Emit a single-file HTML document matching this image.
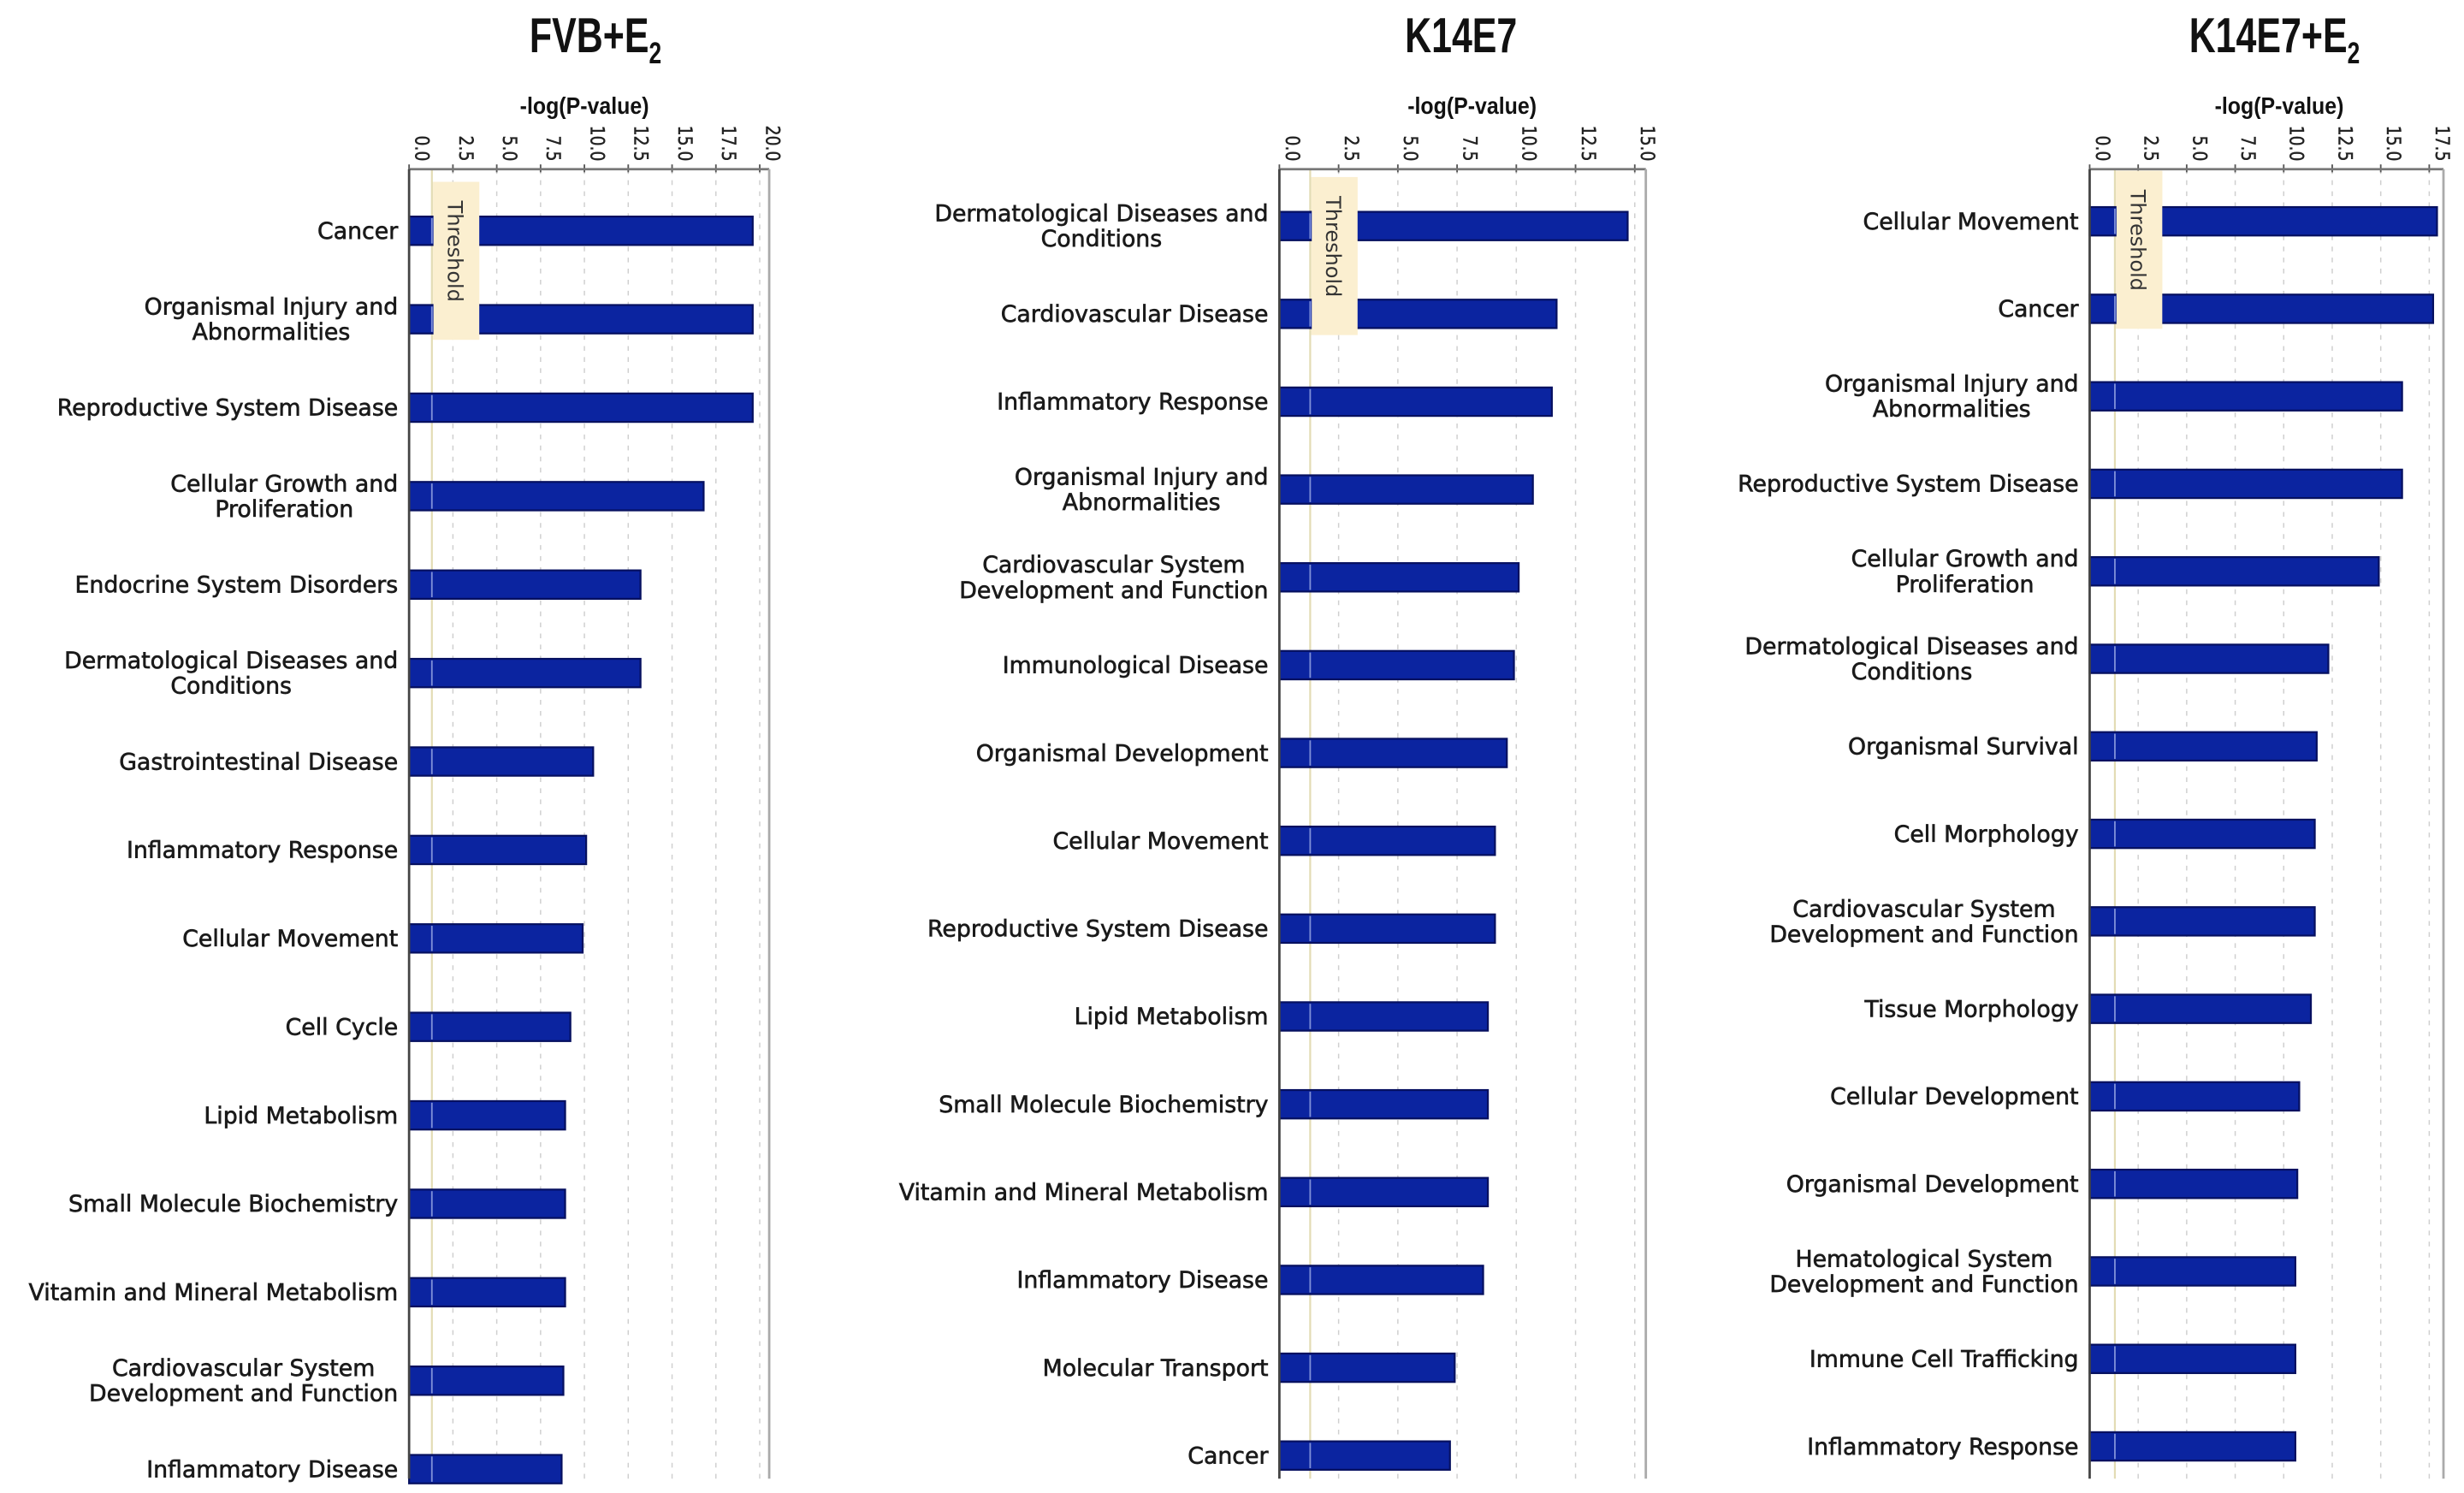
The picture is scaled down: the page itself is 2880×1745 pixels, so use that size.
<!DOCTYPE html>
<html><head><meta charset="utf-8"><style>
html,body{margin:0;padding:0;background:#fff;}
svg{display:block;}
</style></head><body>
<svg id="chart" width="2880" height="1745" viewBox="0 0 1560 945" xmlns="http://www.w3.org/2000/svg"></svg>
<script>
const cats1 = [["Cancer"],["Organismal Injury and","Abnormalities"],["Reproductive System Disease"],["Cellular Growth and","Proliferation"],["Endocrine System Disorders"],["Dermatological Diseases and","Conditions"],["Gastrointestinal Disease"],["Inflammatory Response"],["Cellular Movement"],["Cell Cycle"],["Lipid Metabolism"],["Small Molecule Biochemistry"],["Vitamin and Mineral Metabolism"],["Cardiovascular System","Development and Function"],["Inflammatory Disease"]];
const vals1 = [19.6,19.6,19.6,16.8,13.2,13.2,10.5,10.1,9.9,9.2,8.9,8.9,8.9,8.8,8.7];
const ticks1 = ["0.0","2.5","5.0","7.5","10.0","12.5","15.0","17.5","20.0"];

const cats2 = [["Dermatological Diseases and","Conditions"],["Cardiovascular Disease"],["Inflammatory Response"],["Organismal Injury and","Abnormalities"],["Cardiovascular System","Development and Function"],["Immunological Disease"],["Organismal Development"],["Cellular Movement"],["Reproductive System Disease"],["Lipid Metabolism"],["Small Molecule Biochemistry"],["Vitamin and Mineral Metabolism"],["Inflammatory Disease"],["Molecular Transport"],["Cancer"]];
const vals2 = [14.7,11.7,11.5,10.7,10.1,9.9,9.6,9.1,9.1,8.8,8.8,8.8,8.6,7.4,7.2];
const ticks2 = ["0.0","2.5","5.0","7.5","10.0","12.5","15.0"];

const cats3 = [["Cellular Movement"],["Cancer"],["Organismal Injury and","Abnormalities"],["Reproductive System Disease"],["Cellular Growth and","Proliferation"],["Dermatological Diseases and","Conditions"],["Organismal Survival"],["Cell Morphology"],["Cardiovascular System","Development and Function"],["Tissue Morphology"],["Cellular Development"],["Organismal Development"],["Hematological System","Development and Function"],["Immune Cell Trafficking"],["Inflammatory Response"]];
const vals3 = [17.9,17.7,16.1,16.1,14.9,12.3,11.7,11.6,11.6,11.4,10.8,10.7,10.6,10.6,10.6];
const ticks3 = ["0.0","2.5","5.0","7.5","10.0","12.5","15.0","17.5"];

const thresh = 1.3;
const NS="http://www.w3.org/2000/svg";
const svg=document.getElementById('chart');
function mk(tag,attrs,parent,txt){const e=document.createElementNS(NS,tag);for(const k in attrs)e.setAttribute(k,attrs[k]);if(txt!==undefined)e.textContent=txt;(parent||svg).appendChild(e);return e;}
const LF="font-family:'DejaVu Sans','Liberation Sans',sans-serif;";
const SF="font-family:'Liberation Sans',sans-serif;";
const LABST=LF+"font-size:14.5px;stroke:#1a1a1a;stroke-width:0.35px;";

function panel(cfg,cats,vals,ticks){
  const g=mk('g',{});
  
  
  const tmax=parseFloat(ticks[ticks.length-1]);
  const x=v=>cfg.x0+(cfg.xT-cfg.x0)*v/tmax;
  const y=i=>cfg.y0+cfg.dy*i;
  const t=mk('text',{transform:`translate(${cfg.tx},33) scale(0.75,1)`,'text-anchor':'middle',style:SF+'font-size:31px;font-weight:bold;',fill:'#111'},g);
  
  
  mk('tspan',{},t,cfg.title);
  if(cfg.sub){mk('tspan',{style:'font-size:19px',dy:7},t,cfg.sub);}
  const al=mk('text',{transform:`translate(${cfg.ax},72) scale(0.9,1)`,'text-anchor':'middle',style:SF+'font-size:15px;font-weight:bold;',fill:'#111'},g,'-log(P-value)');
  
  
  const top=107,bot=936;
  ticks.forEach((tk,i)=>{
    const v=parseFloat(tk),xx=x(v);
    if(i>0){const gl=mk('line',{x1:xx,y1:top,x2:xx,y2:bot,stroke:'#cfcfcf','stroke-width':0.8,'stroke-dasharray':'3,4'},g);
      }
    mk('line',{x1:xx,y1:top-3,x2:xx,y2:top+2,stroke:'#555','stroke-width':1},g);
    const tl=mk('text',{transform:`translate(${xx+4},${top-5}) rotate(90) scale(0.85,1)`,'text-anchor':'end',style:LF+'font-size:12px;stroke:#222;stroke-width:0.25px;',fill:'#222'},g,tk);
    
    
  });
  const tb=mk('rect',{x:x(thresh),y:cfg.by0,width:30,height:100,fill:'#fbefd0',opacity:0.9},g);
  
  
  const tln=mk('line',{x1:x(thresh),y1:top,x2:x(thresh),y2:bot,stroke:'#e3dcb5','stroke-width':1.2},g);
  
  
  mk('line',{x1:cfg.x0,y1:top,x2:cfg.xR,y2:top,stroke:'#777','stroke-width':1.5},g);
  mk('line',{x1:cfg.xR,y1:top,x2:cfg.xR,y2:bot,stroke:'#aaa','stroke-width':1.5},g);
  vals.forEach((v,i)=>{
    const yc=y(i);
    const b=mk('rect',{x:cfg.x0,y:yc-9,width:x(v)-cfg.x0,height:18,fill:'#0b24a0',stroke:'#061060','stroke-width':1.2},g);
    
    
    mk('line',{x1:x(thresh),y1:yc-8,x2:x(thresh),y2:yc+8,stroke:'#7e8fd8','stroke-width':1},g);
    const lines=cats[i];
    const right=cfg.x0-7;
    if(lines.length===1){
      const lab=mk('text',{x:right,y:yc+5,'text-anchor':'end',style:LABST,fill:'#1a1a1a'},g,lines[0]);
      
      
    } else {
      const lab=mk('text',{x:right,y:yc-3,'text-anchor':'middle',style:LABST,fill:'#1a1a1a'},g);
      
      
      const sp=lines.map((ln,k)=>mk('tspan',{x:right,dy:k===0?0:16},lab,ln));
      const w=Math.max(...sp.map(s=>s.getComputedTextLength()));
      sp.forEach(s=>s.setAttribute('x',right-w/2));
    }
  });
  mk('rect',{x:x(thresh)+1,y:cfg.by0,width:29,height:100,fill:'#fbefd0'},g);
  mk('line',{x1:cfg.x0,y1:top,x2:cfg.x0,y2:bot,stroke:'#444','stroke-width':1.5},g);
  const tt=mk('text',{transform:`translate(${x(thresh)+10},${cfg.by0+12}) rotate(90)`,style:LF+'font-size:13px;',fill:'#333'},g,'Threshold');
  
  
}
panel({id:'fvb-e2',title:'FVB+E',sub:'2',tx:377,ax:370,x0:259,xT:481,xR:487,y0:146,dy:56,by0:115},cats1,vals1,ticks1);
panel({id:'k14e7',title:'K14E7',tx:925,ax:932,x0:810,xT:1035,xR:1042,y0:143,dy:55.6,by0:112},cats2,vals2,ticks2);
panel({id:'k14e7-e2',title:'K14E7+E',sub:'2',tx:1440,ax:1443,x0:1323,xT:1538,xR:1547,y0:140,dy:55.4,by0:108},cats3,vals3,ticks3);
</script>
</body></html>
